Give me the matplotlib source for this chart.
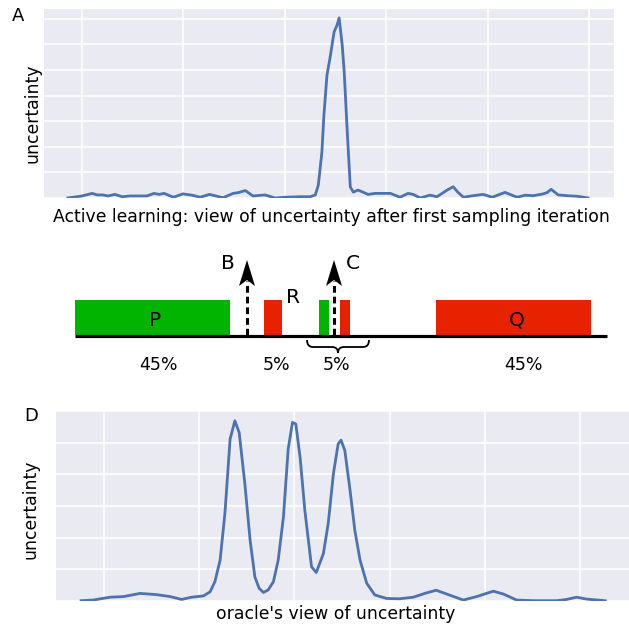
import numpy as np
import matplotlib
matplotlib.use("Agg")
import matplotlib.pyplot as plt
from matplotlib.patches import Polygon, PathPatch
from matplotlib.path import Path


# panel A: uncertainty after the first sampling iteration
top_x = [-2.8, 0.0, 2.0, 3.0, 4.1, 5.1, 6.5, 7.9, 9.5, 12.8, 14.2, 15.2, 16.2, 18.0,
         19.9, 21.7, 23.3, 25.1, 26.2, 27.8, 29.8, 30.8, 32.2, 33.7, 36.1, 38.1,
         40.0, 43.0, 45.0, 46.0, 46.6, 47.3, 47.7, 48.3, 48.9, 49.7, 50.3, 50.7,
         51.3, 51.7, 52.3, 52.9, 53.5, 54.4, 55.4, 56.4, 57.8, 59.2, 60.8, 62.7,
         64.3, 65.3, 66.7, 68.6, 70.0, 72.0, 73.2, 74.0, 75.2, 77.1, 79.1, 80.9,
         83.4, 85.8, 87.4, 89.0, 90.9, 91.7, 92.5, 93.9, 95.7, 97.6, 99.8]
top_y = [0.0, 0.08, 0.18, 0.12, 0.12, 0.08, 0.14, 0.05, 0.08, 0.08, 0.18, 0.14, 0.18, 0.03,
         0.16, 0.11, 0.03, 0.14, 0.09, 0.01, 0.18, 0.21, 0.29, 0.08, 0.12, 0.0,
         0.03, 0.05, 0.05, 0.12, 0.51, 1.80, 3.24, 4.80, 5.47, 6.48, 6.76, 7.03,
         5.98, 4.92, 2.58, 0.43, 0.23, 0.31, 0.23, 0.14, 0.18, 0.18, 0.18, 0.03,
         0.18, 0.14, 0.0, 0.11, 0.05, 0.31, 0.44, 0.25, 0.03, 0.09, 0.14, 0.03,
         0.22, 0.03, 0.11, 0.09, 0.16, 0.21, 0.34, 0.12, 0.09, 0.07, 0.0]

# panel D: oracle's view
bot_x = [-4.8, -2.3, 1.3, 4.1, 7.6, 11.1, 13.9, 16.3, 18.4, 20.9, 22.3, 23.3, 24.4,
         25.4, 26.5, 27.5, 28.4, 29.6, 30.7, 31.7, 32.6, 33.5, 34.5, 35.6, 36.6, 37.7,
         38.7, 39.6, 40.3, 41.2, 42.2, 43.6, 44.6, 46.1, 47.1, 48.2, 49.2, 49.8,
         50.6, 51.7, 52.7, 53.8, 55.2, 56.9, 59.4, 62.0, 65.0, 67.4, 69.8, 72.0, 75.5,
         78.3, 81.8, 83.9, 86.7, 90.2, 95.1, 97.2, 99.3, 101.4, 105.3]
bot_y = [0.01, 0.03, 0.12, 0.14, 0.24, 0.20, 0.14, 0.05, 0.12, 0.16, 0.29, 0.61, 1.29,
         2.76, 5.12, 5.69, 5.32, 3.70, 1.92, 0.76, 0.40, 0.27, 0.35, 0.61, 1.29, 2.65,
         4.80, 5.64, 5.59, 4.54, 2.86, 1.08, 0.90, 1.50, 2.44, 4.02, 4.96, 5.08,
         4.75, 3.49, 2.23, 1.29, 0.56, 0.19, 0.08, 0.07, 0.12, 0.24, 0.34, 0.22, 0.03,
         0.14, 0.31, 0.22, 0.03, 0.01, 0.01, 0.05, 0.12, 0.06, 0.01]

# schematic between the panels (pixel units of the figure)
seg_start = [75, 264, 319, 340, 436]
seg_end = [230, 282, 329, 350, 591]
seg_color = ["#00b400", "#e62200", "#00b400", "#e62200", "#e62200"]
seg_names = ["P", "", "", "", "Q"]
arrow_x = [247, 334]
arrow_names = ["B", "C"]
pct_labels = ["45%", "5%", "5%", "45%"]
pct_x = [158, 277, 336, 523]

W, H = 629, 626
fig = plt.figure(figsize=(W / 100, H / 100), dpi=100)

# middle diagram
axd = fig.add_axes([0, 0, 1, 1])
axd.set_xlim(0, W)
axd.set_ylim(H, 0)
axd.axis("off")

for x0, x1, c, name in zip(seg_start, seg_end, seg_color, seg_names):
    axd.add_patch(plt.Rectangle((x0, 300), x1 - x0, 35, color=c, lw=0))
    if name:
        axd.text((x0 + x1) / 2 + 3, 326, name, fontsize=14.5, ha="center", va="baseline")
axd.plot([75, 607], [336, 336], color="black", lw=2.3, solid_capstyle="butt")

for x, name, dx in zip(arrow_x, arrow_names, [-19, 19]):
    axd.plot([x, x], [335, 281], color="black", lw=2.2, linestyle=(0, (2.2, 1.3)))
    axd.add_patch(Polygon([(x, 260), (x - 8, 286), (x, 280), (x + 8, 286)],
                          closed=True, color="black", lw=0))
    axd.text(x + dx, 269, name, fontsize=14.5, ha="center", va="baseline")
axd.text(293, 303, "R", fontsize=14.5, ha="center", va="baseline")

brace = [(307, 340), (307, 347), (313, 347), (332, 347), (338, 347), (338, 353),
         (338, 347), (344, 347), (363, 347), (369, 347), (369, 340)]
codes = [Path.MOVETO, Path.CURVE3, Path.CURVE3, Path.LINETO, Path.CURVE3, Path.CURVE3,
         Path.CURVE3, Path.CURVE3, Path.LINETO, Path.CURVE3, Path.CURVE3]
axd.add_patch(PathPatch(Path(brace, codes), fill=False, lw=1.3, color="black"))

for x, lab in zip(pct_x, pct_labels):
    axd.text(x, 369.5, lab, fontsize=12.5, ha="center", va="baseline")


def style(ax):
    ax.set_facecolor("#EAEAF2")
    ax.grid(True, color="white", lw=1.1)
    ax.set_axisbelow(True)
    for s in ax.spines.values():
        s.set_visible(False)
    ax.tick_params(length=0, labelbottom=False, labelleft=False)


line_c = "#4C72B0"

ax1 = fig.add_axes([44 / W, 1 - 198 / H, 570 / W, 189 / H])
style(ax1)
ax1.plot(top_x, top_y, color=line_c, lw=2)
ax1.set_xticks(range(0, 101, 20))
ax1.set_yticks(range(0, 8))
ax1.set_xlim(-7.5, 104.9)
ax1.set_ylim(0, 7.38)
ax1.set_xlabel("Active learning: view of uncertainty after first sampling iteration", fontsize=12.4)
ax1.xaxis.set_label_coords(0.504, -0.055)
ax1.set_ylabel("uncertainty", fontsize=12.4)
ax1.yaxis.set_label_coords(-0.005, 0.447)

ax2 = fig.add_axes([56 / W, 1 - 601 / H, 573 / W, 190 / H])
style(ax2)
ax2.plot(bot_x, bot_y, color=line_c, lw=2)
ax2.set_xticks(range(0, 101, 20))
ax2.set_yticks(range(0, 7))
ax2.set_xlim(-10.08, 110.3)
ax2.set_ylim(0, 6)
ax2.set_xlabel("oracle's view of uncertainty", fontsize=12.4)
ax2.xaxis.set_label_coords(0.488, -0.02)
ax2.set_ylabel("uncertainty", fontsize=12.4)
ax2.yaxis.set_label_coords(-0.028, 0.484)

fig.text(12 / W, 1 - 20.7 / H, "A", fontsize=13, ha="left", va="baseline")
fig.text(24.5 / W, 1 - 420.7 / H, "D", fontsize=13, ha="left", va="baseline")

fig.savefig("out.png", dpi=100)
